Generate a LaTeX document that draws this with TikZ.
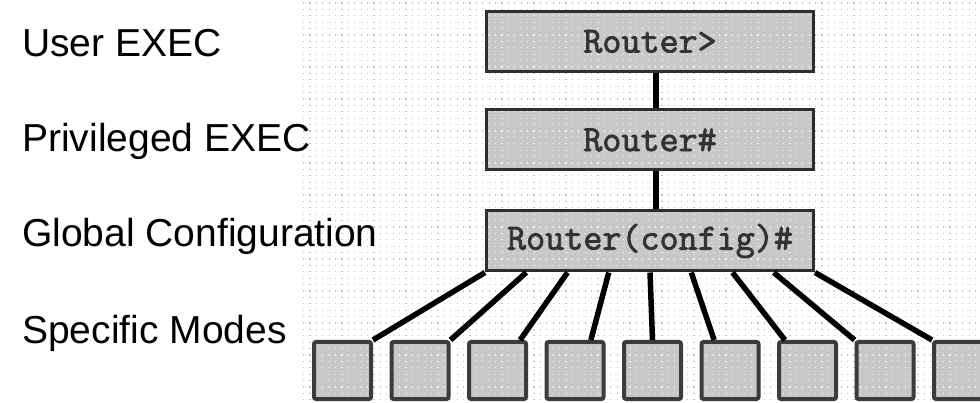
\documentclass[tikz,border=0pt]{standalone}
\usepackage{fontspec}
\setmainfont{Liberation Sans}
\newfontfamily\monof[AutoFakeBold=2.2]{Latin Modern Mono}
\usetikzlibrary{calc}
\definecolor{boxfill}{HTML}{C8C8C8}
\definecolor{boxline}{HTML}{2E2E2E}
\definecolor{modeline}{HTML}{3C3C3C}
\definecolor{gdot}{HTML}{C4C4C4}
\definecolor{idot}{HTML}{EEF6F6}
\newcommand\dotgrid[1]{\foreach \k in {0,...,63}{\draw[#1,line width=1.2pt,dash pattern=on 1.2pt off 5.2pt] (303,\k*6.4+3) -- (980,\k*6.4+3);}}
\begin{document}
\begin{tikzpicture}[x=1pt,y=-1pt,
  level/.style={draw=boxline,line width=3pt,fill=boxfill,minimum width=327pt,minimum height=60pt,inner sep=0pt},
  leveltext/.style={inner sep=0pt,font=\monof\bfseries\fontsize{37}{42}\selectfont,text=black!80},
  mode/.style={draw=modeline,line width=4pt,fill=boxfill,minimum width=57pt,minimum height=57pt,inner sep=0pt,rounded corners=2pt},
  lbl/.style={anchor=base west,inner sep=0pt,font=\fontsize{39}{44}\selectfont},
  conn/.style={line width=5.5pt,black}]
\useasboundingbox (0,0) rectangle (980,403);
\fill[white] (0,0) rectangle (980,403);
\dotgrid{gdot}
% labels
\node[lbl] (l1) at (22,57) {User EXEC};
\node[lbl] (l2) at (22,152) {Privileged EXEC};
\node[lbl] (l3) at (22,247) {Global Configuration};
\node[lbl] (l4) at (22,343) {Specific Modes};
% level boxes
\node[level] (r1) at (650,41.5) {};
\node[level] (r2) at (650,140) {};
\node[level] (r3) at (650,241) {};
\foreach \i in {1,...,9}{\node[mode] (s\i) at ({342.5+77.5*(\i-1)},370.5) {};}
% inner dots
\foreach \n/\d in {r1/3.5,r2/3.5,r3/3.5,s1/4.5,s2/4.5,s3/4.5,s4/4.5,s5/4.5,s6/4.5,s7/4.5,s8/4.5,s9/4.5}{
  \begin{scope}
    \clip ([xshift=\d pt,yshift=\d pt]\n.south west) rectangle ([xshift=-\d pt,yshift=-\d pt]\n.north east);
    \dotgrid{idot}
  \end{scope}}
% texts
\node[leveltext] (t1) at (r1.center) {Router>};
\node[leveltext] (t2) at (r2.center) {Router\#};
\node[leveltext] (t3) at (r3.center) {Router(config)\#};
% connectors
\draw[conn] ([xshift=6pt]r1.south) -- ([xshift=6pt]r2.north);
\draw[conn] ([xshift=6pt]r2.south) -- ([xshift=6pt]r3.north);
\foreach \i/\g in {1/1,2/1,3/0.87,4/0.76,5/0.5,6/0.24,7/0.13,8/0,9/0}{
  \pgfmathsetmacro\f{(\i-1)/8}
  \draw[conn] ($(r3.south west)!\f!(r3.south east)$) -- ($(s\i.north west)!\g!(s\i.north east)$);}
\end{tikzpicture}
\end{document}
